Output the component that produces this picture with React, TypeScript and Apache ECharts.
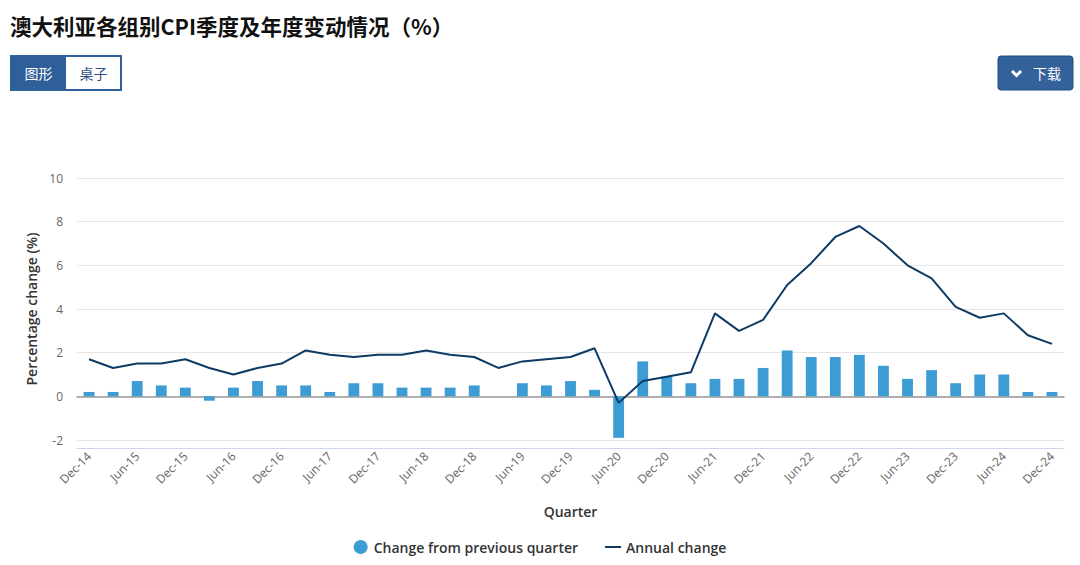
import React, { useEffect, useRef } from "react";
import * as echarts from "echarts";

const quarters = [
  "Dec-14", "Mar-15", "Jun-15", "Sep-15", "Dec-15", "Mar-16", "Jun-16", "Sep-16", "Dec-16",
  "Mar-17", "Jun-17", "Sep-17", "Dec-17", "Mar-18", "Jun-18", "Sep-18", "Dec-18",
  "Mar-19", "Jun-19", "Sep-19", "Dec-19", "Mar-20", "Jun-20", "Sep-20", "Dec-20",
  "Mar-21", "Jun-21", "Sep-21", "Dec-21", "Mar-22", "Jun-22", "Sep-22", "Dec-22",
  "Mar-23", "Jun-23", "Sep-23", "Dec-23", "Mar-24", "Jun-24", "Sep-24", "Dec-24",
];

const quarterlyChange = [
  0.2, 0.2, 0.7, 0.5, 0.4, -0.2, 0.4, 0.7, 0.5,
  0.5, 0.2, 0.6, 0.6, 0.4, 0.4, 0.4, 0.5,
  0.0, 0.6, 0.5, 0.7, 0.3, -1.9, 1.6, 0.9,
  0.6, 0.8, 0.8, 1.3, 2.1, 1.8, 1.8, 1.9,
  1.4, 0.8, 1.2, 0.6, 1.0, 1.0, 0.2, 0.2,
];

const annualChange = [
  1.7, 1.3, 1.5, 1.5, 1.7, 1.3, 1.0, 1.3, 1.5,
  2.1, 1.9, 1.8, 1.9, 1.9, 2.1, 1.9, 1.8,
  1.3, 1.6, 1.7, 1.8, 2.2, -0.3, 0.7, 0.9,
  1.1, 3.8, 3.0, 3.5, 5.1, 6.1, 7.3, 7.8,
  7.0, 6.0, 5.4, 4.1, 3.6, 3.8, 2.8, 2.4,
];

const title = "澳大利亚各组别CPI季度及年度变动情况（%）";
const seriesNames = ["Change from previous quarter", "Annual change"];
const yAxisName = "Percentage change (%)";
const xAxisName = "Quarter";

const FONT = "'Open Sans', 'Noto Sans', sans-serif";
const CJK = "'Noto Sans CJK SC', sans-serif";
const BLUE_BTN = "#2f5f98";

export default function App() {
  const ref = useRef<HTMLDivElement>(null);
  useEffect(() => {
    if (!ref.current) return;
    const chart = echarts.init(ref.current, undefined, { renderer: "svg" });
    chart.setOption({
      animation: false,
      backgroundColor: "#ffffff",
      textStyle: { fontFamily: FONT },
      grid: { left: 77, right: 16, top: 178, bottom: 125 },
      legend: {
        top: 535,
        left: "center",
        itemGap: 26,
        itemWidth: 16,
        itemHeight: 14,
        textStyle: { fontFamily: FONT, fontSize: 14, color: "#333", fontWeight: 600 },
        data: [
          { name: seriesNames[0], icon: "circle" },
          { name: seriesNames[1], itemStyle: { opacity: 0 } },
        ],
      },
      xAxis: [
        {
          type: "category",
          data: quarters,
          position: "bottom",
          offset: 8,
          axisLine: { onZero: false, lineStyle: { color: "#ccd6eb", width: 1 } },
          axisTick: { show: false },
          axisLabel: {
            interval: 1,
            rotate: 45,
            color: "#666",
            fontSize: 12,
            fontFamily: FONT,
            margin: 6,
          },
          name: xAxisName,
          nameLocation: "middle",
          nameGap: 56,
          nameTextStyle: { fontFamily: FONT, fontSize: 14, color: "#333", fontWeight: 600 },
        },
        {
          type: "category",
          data: quarters,
          position: "top",
          axisLine: { onZero: true, lineStyle: { color: "#999", width: 1.5 } },
          axisTick: { show: false },
          axisLabel: { show: false },
          z: 0,
        },
      ],
      yAxis: {
        type: "value",
        min: -2,
        max: 10,
        interval: 2,
        axisLine: { show: false },
        axisTick: { show: false },
        axisLabel: { color: "#666", fontSize: 12, fontFamily: FONT, margin: 14 },
        splitLine: { lineStyle: { color: "#e6e6e6", width: 1 } },
        name: yAxisName,
        nameLocation: "middle",
        nameGap: 36,
        nameTextStyle: { fontFamily: FONT, fontSize: 14, color: "#333", fontWeight: 600 },
      },
      series: [
        {
          name: seriesNames[0],
          type: "bar",
          data: quarterlyChange,
          barWidth: "45%",
          itemStyle: { color: "#3d9cd4" },
          z: 2,
        },
        {
          name: seriesNames[1],
          type: "line",
          data: annualChange,
          symbol: "none",
          lineStyle: { color: "#0d3b66", width: 2 },
          itemStyle: { color: "#0d3b66" },
          z: 3,
        },
      ],
      graphic: [
        {
          type: "text",
          left: 10,
          top: 15,
          style: { text: title, fontFamily: CJK, fontSize: 21.5, fontWeight: "bold", fill: "#111" },
        },
        {
          type: "rect",
          shape: { x: 11, y: 56, width: 110, height: 34 },
          style: { fill: "#fff", stroke: BLUE_BTN, lineWidth: 2 },
        },
        {
          type: "rect",
          shape: { x: 11, y: 56, width: 55, height: 34 },
          style: { fill: BLUE_BTN },
        },
        {
          type: "text",
          x: 38.5,
          y: 73,
          style: { text: "图形", fontFamily: CJK, fontSize: 14, fill: "#fff", align: "center", verticalAlign: "middle" },
        },
        {
          type: "text",
          x: 93.5,
          y: 73,
          style: { text: "桌子", fontFamily: CJK, fontSize: 14, fill: "#2f4f7f", align: "center", verticalAlign: "middle" },
        },
        {
          type: "rect",
          shape: { x: 998, y: 56, width: 75, height: 34, r: 3 },
          style: { fill: "#336199", stroke: "#1f4e85", lineWidth: 1 },
        },
        {
          type: "polyline",
          shape: { points: [[1012, 71], [1016.5, 75.5], [1021, 71]] },
          style: { stroke: "#fff", lineWidth: 3, fill: null },
        },
        {
          type: "text",
          x: 1033,
          y: 73,
          style: { text: "下载", fontFamily: CJK, fontSize: 14, fill: "#fff", verticalAlign: "middle" },
        },
      ],
    });
    return () => chart.dispose();
  }, []);
  return (
    <div
      ref={ref}
      style={{ position: "fixed", left: 0, top: 0, width: 1080, height: 565 }}
    />
  );
}
